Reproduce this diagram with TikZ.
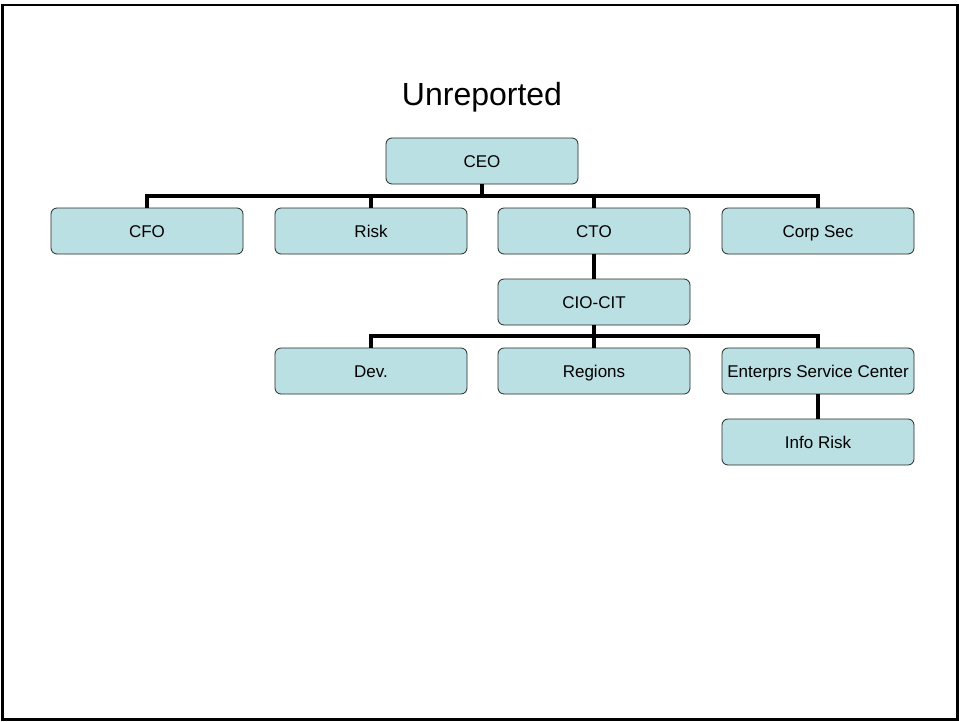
\documentclass[tikz,border=0pt]{standalone}
\usepackage{fontspec}
\setmainfont{Liberation Sans}
\usetikzlibrary{positioning}
\definecolor{boxfill}{RGB}{187,224,227}
\definecolor{boxline}{RGB}{40,40,40}

\begin{document}
\begin{tikzpicture}[x=1pt, y=-1pt]
		\useasboundingbox (0,0) rectangle (959,721);
		\draw[line width=2.5pt] (2.5,5) rectangle (957.5,719.5);
		\node (title) at (482,97) {\fontsize{32}{36}\selectfont Unreported};
		\begin{scope}[every node/.style={rectangle,rounded corners=6pt,draw=boxline,fill=boxfill,line width=0.8pt, minimum width=192pt, minimum height=46pt, inner sep=1pt, text height=13pt, text depth=1pt, font=\fontsize{17}{20}\selectfont}]
			\node (ceo) at (482,161) {CEO};
			\node (cfo) at (147,231) {CFO};
			\node (risk) at (371,231) {Risk};
			\node (cto) at (594,231) {CTO};
			\node (corpsec) at (818,231) {Corp Sec};
			\node (ciocit) at (594,302) {CIO-CIT};
			\node (dev) at (371,371) {Dev.};
			\node (regions) at (594,371) {Regions};
			\node (esc) at (818,371) {Enterprs Service Center};
			\node (inforisk) at (818,442) {Info Risk};
		\end{scope}
		\coordinate (bus1) at (482,196);
		\coordinate (bus2) at (594,336);
		\begin{scope}[line width=3.2pt]
			\draw (ceo) -- (bus1);
			\draw (bus1) -| (cfo);
			\draw (bus1) -| (risk);
			\draw (bus1) -| (cto);
			\draw (bus1) -| (corpsec);
			\draw (cto) -- (ciocit);
			\draw (ciocit) -- (bus2);
			\draw (bus2) -| (dev);
			\draw (bus2) -- (regions);
			\draw (bus2) -| (esc);
			\draw (esc) -- (inforisk);
		\end{scope}
	\end{tikzpicture}
\end{document}
